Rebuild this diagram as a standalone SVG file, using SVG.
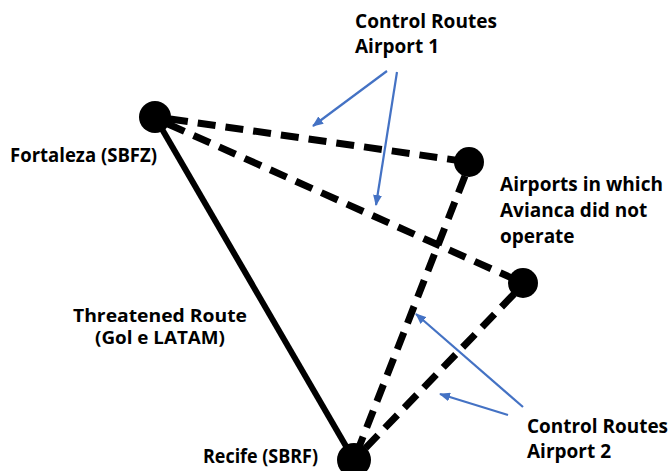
<svg xmlns="http://www.w3.org/2000/svg" width="670" height="471" viewBox="0 0 670 471">
<defs>
<marker id="ah" markerWidth="11" markerHeight="9" refX="10" refY="4.5" orient="auto" markerUnits="userSpaceOnUse">
<path d="M0,0 L11,4.5 L0,9 Z" fill="#4472C4"/>
</marker>
</defs>
<style>
.t{font-family:"Open Sans","Liberation Sans",sans-serif;font-weight:bold;font-size:19px;fill:#000}
.sm{font-size:18px}
.d{stroke:#000;stroke-width:7;stroke-dasharray:18 10;fill:none}
.s{stroke:#000;stroke-width:6;fill:none}
.a{stroke:#4472C4;stroke-width:2.2;fill:none;marker-end:url(#ah)}
.n{fill:#000}
</style>
<rect width="670" height="471" fill="#fff"/>
<g id="connectors">
<line class="d" x1="170" y1="119" x2="469" y2="162"/>
<line class="d" x1="168" y1="124" x2="523" y2="283"/>
<line class="d" x1="465" y1="176" x2="354" y2="460"/>
<line class="d" x1="514" y1="294" x2="354" y2="460"/>
<line class="s" x1="155" y1="117" x2="354" y2="460"/>
<line class="a" x1="387" y1="71" x2="313" y2="126"/>
<line class="a" x1="397" y1="72" x2="376" y2="205"/>
<line class="a" x1="523" y1="407" x2="416" y2="314"/>
<line class="a" x1="508" y1="415" x2="440" y2="394"/>
</g>
<g id="fortaleza"><circle class="n" cx="155" cy="117" r="16"/><text class="t" x="10" y="162" textLength="147" lengthAdjust="spacingAndGlyphs">Fortaleza (SBFZ)</text></g>
<g id="airport1"><circle class="n" cx="469" cy="162" r="15"/></g>
<g id="airport2"><circle class="n" cx="523" cy="283" r="15"/></g>
<g id="recife"><circle class="n" cx="354" cy="460" r="17"/><text class="t" x="203" y="463" textLength="115" lengthAdjust="spacingAndGlyphs">Recife (SBRF)</text></g>
<g id="label-control1"><text class="t" x="355" y="28" textLength="142" lengthAdjust="spacingAndGlyphs">Control Routes</text><text class="t" x="355" y="53">Airport 1</text></g>
<g id="label-airports"><text class="t" x="500" y="191" textLength="163" lengthAdjust="spacingAndGlyphs">Airports in which</text><text class="t" x="500" y="217">Avianca did not</text><text class="t" x="500" y="243">operate</text></g>
<g id="label-threatened"><text class="t sm" x="73" y="322" textLength="174" lengthAdjust="spacingAndGlyphs">Threatened Route</text><text class="t sm" x="95" y="344" textLength="130" lengthAdjust="spacingAndGlyphs">(Gol e LATAM)</text></g>
<g id="label-control2"><text class="t" x="527" y="433" textLength="141" lengthAdjust="spacingAndGlyphs">Control Routes</text><text class="t" x="527" y="458">Airport 2</text></g>
</svg>
